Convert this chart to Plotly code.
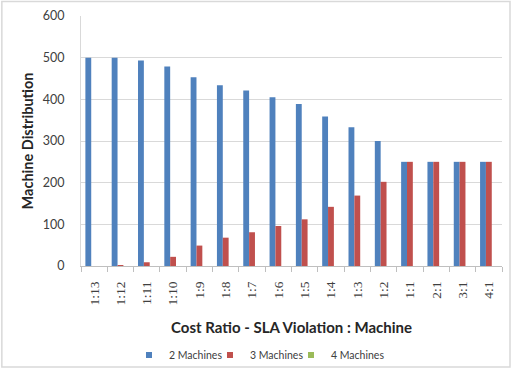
import plotly.graph_objects as go

categories = ["1:13", "1:12", "1:11", "1:10", "1:9", "1:8", "1:7", "1:6", "1:5",
              "1:4", "1:3", "1:2", "1:1", "2:1", "3:1", "4:1"]
two_machines = [500, 500, 493, 479, 453, 434, 421, 405, 389, 359, 333, 300, 250, 250, 250, 250]
three_machines = [0, 1, 9, 22, 49, 68, 81, 96, 112, 142, 169, 202, 250, 250, 250, 250]
four_machines = [0] * 16

series = [("2 Machines", two_machines, "#4F81BD"),
          ("3 Machines", three_machines, "#C0504D"),
          ("4 Machines", four_machines, "#9BBB59")]

fig = go.Figure()
for name, vals, color in series:
    fig.add_trace(go.Bar(x=categories, y=vals, name=name, marker_color=color,
                         marker_line_width=0, showlegend=False, legendgroup=name))
# legend entries with small square swatches
for name, vals, color in series:
    fig.add_trace(go.Scatter(x=[None], y=[None], mode="markers", name=name,
                             marker=dict(symbol="square", size=6, color=color),
                             legendgroup=name, showlegend=True))
# spacer entry so the last label is not clipped
fig.add_trace(go.Scatter(x=[None], y=[None], mode="markers", name=" ",
                         marker=dict(size=1, color="rgba(0,0,0,0)"),
                         showlegend=True, hoverinfo="skip"))

FONT = "Lato"
fig.update_layout(
    width=516, height=369,
    margin=dict(l=81, r=14, t=16, b=103, autoexpand=False),
    paper_bgcolor="white", plot_bgcolor="white",
    barmode="group", bargap=0.333, bargroupgap=0,
    font=dict(family=FONT, color="#404040"),
    showlegend=True,
    legend=dict(orientation="h", x=0.114, xanchor="left", y=-0.356, yanchor="middle",
                font=dict(size=10.5, family=FONT, color="#404040"),
                itemwidth=30, entrywidth=36, entrywidthmode="pixels",
                tracegroupgap=0, bgcolor="rgba(0,0,0,0)", itemsizing="trace",
                itemclick=False, itemdoubleclick=False),
    xaxis=dict(
        type="category", tickangle=-90,
        tickfont=dict(size=13.5, family="Liberation Serif", color="#404040"),
        ticks="outside", tickson="boundaries", ticklen=5, tickcolor="#bfbfbf",
        ticklabelstandoff=9,
        showline=True, linecolor="#bfbfbf", linewidth=1, showgrid=False,
        automargin=False,
        title=dict(text="<b>Cost Ratio - SLA Violation : Machine</b>", standoff=18,
                   font=dict(size=15, family=FONT, color="#262626")),
    ),
    yaxis=dict(
        range=[0, 600], dtick=100, tickfont=dict(size=12.5, family=FONT, color="#404040"),
        showgrid=True, gridcolor="#d9d9d9", gridwidth=1,
        showline=True, linecolor="#d9d9d9", zeroline=False,
        ticks="", ticklabelstandoff=13, automargin=False,
        title=dict(text="<b>Machine Distribution</b>", standoff=5,
                   font=dict(size=14.5, family=FONT, color="#262626")),
    ),
    shapes=[dict(type="rect", xref="paper", yref="paper",
                 x0=-0.188, x1=1.019, y0=-0.404, y1=1.058,
                 line=dict(color="#d9d9d9", width=1.5), layer="below")],
)

fig.write_html("out.html")
